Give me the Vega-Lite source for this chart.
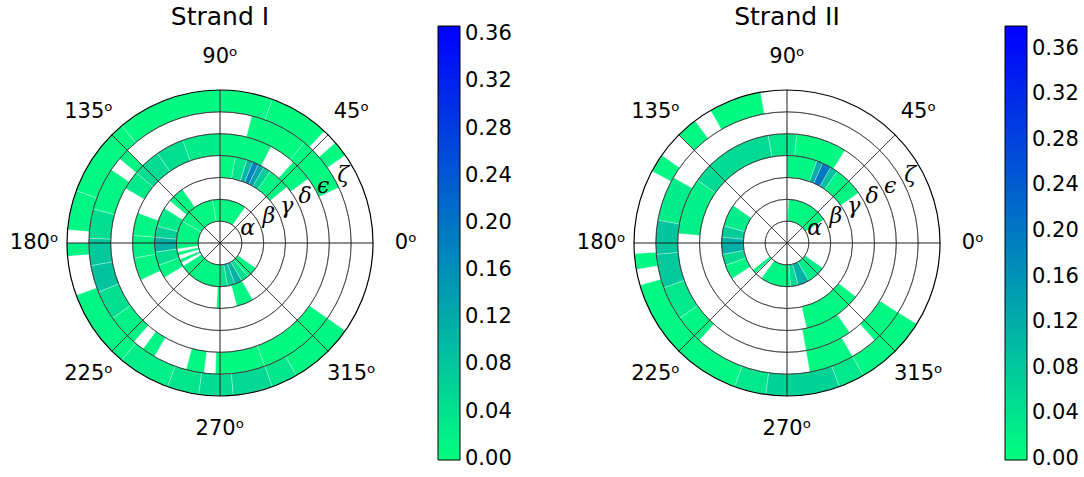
{
  "$schema": "https://vega.github.io/schema/vega-lite/v6.json",
  "padding": {"left": 9, "top": 5, "right": 0, "bottom": 0},
  "bounds": "flush",
  "spacing": 261,
  "config": {"view": {"stroke": null}, "font": "DejaVu Sans"},
  "resolve": {"scale": {"color": "independent"}},
  "datasets": {
    "strandI": [
      {"ring": "ζ", "r0": 6, "r1": 7, "a0": 35, "a1": 41, "v": 0.006},
      {"ring": "ζ", "r0": 6, "r1": 7, "a0": 47, "a1": 70, "v": 0.005},
      {"ring": "ζ", "r0": 6, "r1": 7, "a0": 70, "a1": 90, "v": 0.006},
      {"ring": "ζ", "r0": 6, "r1": 7, "a0": 90, "a1": 130, "v": 0.006},
      {"ring": "ζ", "r0": 6, "r1": 7, "a0": 130, "a1": 160, "v": 0.008},
      {"ring": "ζ", "r0": 6, "r1": 7, "a0": 160, "a1": 175, "v": 0.012},
      {"ring": "ζ", "r0": 6, "r1": 7, "a0": 180, "a1": 185, "v": 0.015},
      {"ring": "ζ", "r0": 6, "r1": 7, "a0": 200, "a1": 230, "v": 0.012},
      {"ring": "ζ", "r0": 6, "r1": 7, "a0": 230, "a1": 250, "v": 0.022},
      {"ring": "ζ", "r0": 6, "r1": 7, "a0": 250, "a1": 262, "v": 0.035},
      {"ring": "ζ", "r0": 6, "r1": 7, "a0": 262, "a1": 275, "v": 0.05},
      {"ring": "ζ", "r0": 6, "r1": 7, "a0": 275, "a1": 290, "v": 0.055},
      {"ring": "ζ", "r0": 6, "r1": 7, "a0": 290, "a1": 300, "v": 0.035},
      {"ring": "ζ", "r0": 6, "r1": 7, "a0": 300, "a1": 325, "v": 0.01},
      {"ring": "ε", "r0": 5, "r1": 6, "a0": 25, "a1": 50, "v": 0.005},
      {"ring": "ε", "r0": 5, "r1": 6, "a0": 50, "a1": 76, "v": 0.006},
      {"ring": "ε", "r0": 5, "r1": 6, "a0": 135, "a1": 140, "v": 0.012},
      {"ring": "ε", "r0": 5, "r1": 6, "a0": 146, "a1": 165, "v": 0.012},
      {"ring": "ε", "r0": 5, "r1": 6, "a0": 165, "a1": 178, "v": 0.045},
      {"ring": "ε", "r0": 5, "r1": 6, "a0": 178, "a1": 190, "v": 0.08},
      {"ring": "ε", "r0": 5, "r1": 6, "a0": 190, "a1": 202, "v": 0.085},
      {"ring": "ε", "r0": 5, "r1": 6, "a0": 202, "a1": 215, "v": 0.045},
      {"ring": "ε", "r0": 5, "r1": 6, "a0": 215, "a1": 229, "v": 0.018},
      {"ring": "ε", "r0": 5, "r1": 6, "a0": 234, "a1": 240, "v": 0.012},
      {"ring": "ε", "r0": 5, "r1": 6, "a0": 255, "a1": 263, "v": 0.008},
      {"ring": "ε", "r0": 5, "r1": 6, "a0": 268, "a1": 290, "v": 0.006},
      {"ring": "ε", "r0": 5, "r1": 6, "a0": 290, "a1": 325, "v": 0.005},
      {"ring": "δ", "r0": 4, "r1": 5, "a0": 36, "a1": 48, "v": 0.005},
      {"ring": "δ", "r0": 4, "r1": 5, "a0": 62, "a1": 90, "v": 0.008},
      {"ring": "δ", "r0": 4, "r1": 5, "a0": 90, "a1": 110, "v": 0.025},
      {"ring": "δ", "r0": 4, "r1": 5, "a0": 110, "a1": 125, "v": 0.045},
      {"ring": "δ", "r0": 4, "r1": 5, "a0": 125, "a1": 140, "v": 0.05},
      {"ring": "δ", "r0": 4, "r1": 5, "a0": 140, "a1": 150, "v": 0.03},
      {"ring": "γ", "r0": 3, "r1": 4, "a0": 40, "a1": 55, "v": 0.012},
      {"ring": "γ", "r0": 3, "r1": 4, "a0": 55, "a1": 60, "v": 0.07},
      {"ring": "γ", "r0": 3, "r1": 4, "a0": 60, "a1": 64, "v": 0.13},
      {"ring": "γ", "r0": 3, "r1": 4, "a0": 64, "a1": 68, "v": 0.18},
      {"ring": "γ", "r0": 3, "r1": 4, "a0": 68, "a1": 72, "v": 0.1},
      {"ring": "γ", "r0": 3, "r1": 4, "a0": 72, "a1": 80, "v": 0.035},
      {"ring": "γ", "r0": 3, "r1": 4, "a0": 80, "a1": 90, "v": 0.008},
      {"ring": "γ", "r0": 3, "r1": 4, "a0": 160, "a1": 175, "v": 0.012},
      {"ring": "γ", "r0": 3, "r1": 4, "a0": 175, "a1": 190, "v": 0.02},
      {"ring": "γ", "r0": 3, "r1": 4, "a0": 190, "a1": 205, "v": 0.012},
      {"ring": "β", "r0": 2, "r1": 3, "a0": 125, "a1": 140, "v": 0.012},
      {"ring": "β", "r0": 2, "r1": 3, "a0": 148, "a1": 165, "v": 0.025},
      {"ring": "β", "r0": 2, "r1": 3, "a0": 165, "a1": 175, "v": 0.065},
      {"ring": "β", "r0": 2, "r1": 3, "a0": 175, "a1": 188, "v": 0.11},
      {"ring": "β", "r0": 2, "r1": 3, "a0": 188, "a1": 200, "v": 0.045},
      {"ring": "β", "r0": 2, "r1": 3, "a0": 200, "a1": 212, "v": 0.012},
      {"ring": "β", "r0": 2, "r1": 3, "a0": 267, "a1": 270, "v": 0.005},
      {"ring": "β", "r0": 2, "r1": 3, "a0": 285, "a1": 300, "v": 0.012},
      {"ring": "α", "r0": 1, "r1": 2, "a0": 55, "a1": 100, "v": 0.008},
      {"ring": "α", "r0": 1, "r1": 2, "a0": 100, "a1": 150, "v": 0.008},
      {"ring": "α", "r0": 1, "r1": 2, "a0": 150, "a1": 180, "v": 0.012},
      {"ring": "α", "r0": 1, "r1": 2, "a0": 180, "a1": 188, "v": 0.012},
      {"ring": "α", "r0": 1, "r1": 2, "a0": 192, "a1": 197, "v": 0.012},
      {"ring": "α", "r0": 1, "r1": 2, "a0": 202, "a1": 207, "v": 0.012},
      {"ring": "α", "r0": 1, "r1": 2, "a0": 212, "a1": 270, "v": 0.012},
      {"ring": "α", "r0": 1, "r1": 2, "a0": 270, "a1": 280, "v": 0.035},
      {"ring": "α", "r0": 1, "r1": 2, "a0": 280, "a1": 290, "v": 0.075},
      {"ring": "α", "r0": 1, "r1": 2, "a0": 290, "a1": 300, "v": 0.11},
      {"ring": "α", "r0": 1, "r1": 2, "a0": 300, "a1": 310, "v": 0.045},
      {"ring": "α", "r0": 1, "r1": 2, "a0": 310, "a1": 325, "v": 0.012}
    ],
    "strandII": [
      {"ring": "ζ", "r0": 6, "r1": 7, "a0": 100, "a1": 120, "v": 0.005},
      {"ring": "ζ", "r0": 6, "r1": 7, "a0": 127, "a1": 135, "v": 0.008},
      {"ring": "ζ", "r0": 6, "r1": 7, "a0": 145, "a1": 152, "v": 0.008},
      {"ring": "ζ", "r0": 6, "r1": 7, "a0": 184, "a1": 190, "v": 0.008},
      {"ring": "ζ", "r0": 6, "r1": 7, "a0": 196, "a1": 250, "v": 0.01},
      {"ring": "ζ", "r0": 6, "r1": 7, "a0": 250, "a1": 262, "v": 0.035},
      {"ring": "ζ", "r0": 6, "r1": 7, "a0": 262, "a1": 290, "v": 0.065},
      {"ring": "ζ", "r0": 6, "r1": 7, "a0": 290, "a1": 300, "v": 0.035},
      {"ring": "ζ", "r0": 6, "r1": 7, "a0": 300, "a1": 328, "v": 0.008},
      {"ring": "ε", "r0": 5, "r1": 6, "a0": 150, "a1": 170, "v": 0.025},
      {"ring": "ε", "r0": 5, "r1": 6, "a0": 170, "a1": 185, "v": 0.085},
      {"ring": "ε", "r0": 5, "r1": 6, "a0": 185, "a1": 200, "v": 0.08},
      {"ring": "ε", "r0": 5, "r1": 6, "a0": 200, "a1": 215, "v": 0.035},
      {"ring": "ε", "r0": 5, "r1": 6, "a0": 215, "a1": 228, "v": 0.012},
      {"ring": "ε", "r0": 5, "r1": 6, "a0": 280, "a1": 300, "v": 0.008},
      {"ring": "ε", "r0": 5, "r1": 6, "a0": 312, "a1": 328, "v": 0.008},
      {"ring": "δ", "r0": 4, "r1": 5, "a0": 58, "a1": 85, "v": 0.005},
      {"ring": "δ", "r0": 4, "r1": 5, "a0": 85, "a1": 100, "v": 0.035},
      {"ring": "δ", "r0": 4, "r1": 5, "a0": 100, "a1": 145, "v": 0.055},
      {"ring": "δ", "r0": 4, "r1": 5, "a0": 145, "a1": 175, "v": 0.022},
      {"ring": "δ", "r0": 4, "r1": 5, "a0": 280, "a1": 305, "v": 0.008},
      {"ring": "γ", "r0": 3, "r1": 4, "a0": 35, "a1": 55, "v": 0.012},
      {"ring": "γ", "r0": 3, "r1": 4, "a0": 55, "a1": 60, "v": 0.09},
      {"ring": "γ", "r0": 3, "r1": 4, "a0": 60, "a1": 66, "v": 0.2},
      {"ring": "γ", "r0": 3, "r1": 4, "a0": 66, "a1": 70, "v": 0.12},
      {"ring": "γ", "r0": 3, "r1": 4, "a0": 70, "a1": 90, "v": 0.012},
      {"ring": "γ", "r0": 3, "r1": 4, "a0": 283, "a1": 322, "v": 0.008},
      {"ring": "β", "r0": 2, "r1": 3, "a0": 145, "a1": 165, "v": 0.025},
      {"ring": "β", "r0": 2, "r1": 3, "a0": 165, "a1": 175, "v": 0.075},
      {"ring": "β", "r0": 2, "r1": 3, "a0": 175, "a1": 190, "v": 0.115},
      {"ring": "β", "r0": 2, "r1": 3, "a0": 190, "a1": 200, "v": 0.055},
      {"ring": "β", "r0": 2, "r1": 3, "a0": 200, "a1": 213, "v": 0.012},
      {"ring": "α", "r0": 1, "r1": 2, "a0": 32, "a1": 88, "v": 0.008},
      {"ring": "α", "r0": 1, "r1": 2, "a0": 218, "a1": 224, "v": 0.008},
      {"ring": "α", "r0": 1, "r1": 2, "a0": 234, "a1": 275, "v": 0.012},
      {"ring": "α", "r0": 1, "r1": 2, "a0": 275, "a1": 285, "v": 0.055},
      {"ring": "α", "r0": 1, "r1": 2, "a0": 285, "a1": 300, "v": 0.115},
      {"ring": "α", "r0": 1, "r1": 2, "a0": 300, "a1": 325, "v": 0.025}
    ],
    "circles": [
      {"r": 1, "t0": 0, "t1": 360}, {"r": 2, "t0": 0, "t1": 360}, {"r": 3, "t0": 0, "t1": 360},
      {"r": 4, "t0": 0, "t1": 360}, {"r": 5, "t0": 0, "t1": 360}, {"r": 6, "t0": 0, "t1": 360}
    ],
    "spokes": [
      {"a": 0, "b": 0.01}, {"a": 45, "b": 45.01}, {"a": 90, "b": 90.01}, {"a": 135, "b": 135.01},
      {"a": 180, "b": 180.01}, {"a": 225, "b": 225.01}, {"a": 270, "b": 270.01}, {"a": 315, "b": 315.01}
    ],
    "outer": [{"r": 7, "t0": 0, "t1": 360}],
    "angleLabels": [
      {"a": 0, "lab": "0ᵒ"}, {"a": 45, "lab": "45ᵒ"}, {"a": 90, "lab": "90ᵒ"}, {"a": 135, "lab": "135ᵒ"},
      {"a": 180, "lab": "180ᵒ"}, {"a": 225, "lab": "225ᵒ"}, {"a": 270, "lab": "270ᵒ"}, {"a": 315, "lab": "315ᵒ"}
    ],
    "greek": [
      {"g": "α", "m": 1.45}, {"g": "β", "m": 2.55}, {"g": "γ", "m": 3.5},
      {"g": "δ", "m": 4.45}, {"g": "ϵ", "m": 5.4}, {"g": "ζ", "m": 6.45}
    ]
  },
  "hconcat": [
    {
      "title": {"text": "Strand I", "fontSize": 25, "fontWeight": "normal", "font": "DejaVu Sans", "offset": -24, "baseline": "alphabetic", "anchor": "middle", "frame": "group", "color": "#000"},
      "width": 306,
      "height": 306,
      "layer": [
        {
          "data": {"name": "strandI"},
          "mark": {"type": "arc", "stroke": "#ffffff", "strokeWidth": 0.3},
          "encoding": {
            "theta": {"field": "a0", "type": "quantitative", "stack": null, "scale": {"type": "linear", "domain": [0, 360], "range": [1.5707963267948966, -4.71238898038469], "nice": false, "zero": false}},
            "theta2": {"field": "a1"},
            "radius": {"field": "r1", "type": "quantitative", "scale": {"type": "linear", "domain": [0, 7], "range": [0, 153], "nice": false, "zero": true}},
            "radius2": {"field": "r0"},
            "color": {
              "field": "v", "type": "quantitative",
              "scale": {"type": "linear", "domain": [-0.001, 0.367], "range": ["#00ff80", "#0000ff"], "interpolate": "rgb", "nice": false, "zero": false},
              "legend": {"orient": "none", "legendX": 371, "legendY": -64, "direction": "vertical", "gradientLength": 434, "gradientThickness": 22, "title": null, "values": [0, 0.04, 0.08, 0.12, 0.16, 0.2, 0.24, 0.28, 0.32, 0.36], "format": ".2f", "labelFontSize": 21, "labelOffset": 5, "labelBaseline": "middle", "labelOverlap": false, "labelColor": "#000", "gradientStrokeColor": "#000", "gradientStrokeWidth": 1, "padding": 0}
            }
          }
        },
        {
          "data": {"name": "circles"},
          "mark": {"type": "arc", "fill": "transparent", "stroke": "#222", "strokeWidth": 0.6},
          "encoding": {
            "theta": {"field": "t0", "type": "quantitative", "stack": null, "scale": {"type": "linear", "domain": [0, 360], "range": [1.5707963267948966, -4.71238898038469], "nice": false, "zero": false}},
            "theta2": {"field": "t1"},
            "radius": {"field": "r", "type": "quantitative", "scale": {"type": "linear", "domain": [0, 7], "range": [0, 153], "nice": false, "zero": true}},
            "radius2": {"field": "r"}
          }
        },
        {
          "data": {"name": "spokes"},
          "mark": {"type": "arc", "fill": "transparent", "stroke": "#222", "strokeWidth": 0.6},
          "encoding": {
            "theta": {"field": "a", "type": "quantitative", "stack": null, "scale": {"type": "linear", "domain": [0, 360], "range": [1.5707963267948966, -4.71238898038469], "nice": false, "zero": false}},
            "theta2": {"field": "b"},
            "radius": {"datum": 7, "type": "quantitative", "scale": {"type": "linear", "domain": [0, 7], "range": [0, 153], "nice": false, "zero": true}}
          }
        },
        {
          "data": {"name": "outer"},
          "mark": {"type": "arc", "fill": "transparent", "stroke": "#000", "strokeWidth": 1.2},
          "encoding": {
            "theta": {"field": "t0", "type": "quantitative", "stack": null, "scale": {"type": "linear", "domain": [0, 360], "range": [1.5707963267948966, -4.71238898038469], "nice": false, "zero": false}},
            "theta2": {"field": "t1"},
            "radius": {"field": "r", "type": "quantitative", "scale": {"type": "linear", "domain": [0, 7], "range": [0, 153], "nice": false, "zero": true}},
            "radius2": {"field": "r"}
          }
        },
        {
          "data": {"name": "angleLabels"},
          "mark": {"type": "text", "fontSize": 21, "font": "DejaVu Sans", "align": "center", "baseline": "middle", "color": "#000"},
          "encoding": {
            "theta": {"field": "a", "type": "quantitative", "scale": {"type": "linear", "domain": [0, 360], "range": [1.5707963267948966, -4.71238898038469], "nice": false, "zero": false}},
            "radius": {"datum": 8.5, "type": "quantitative", "scale": {"type": "linear", "domain": [0, 7], "range": [0, 153], "nice": false, "zero": true}},
            "text": {"field": "lab"}
          }
        },
        {
          "data": {"name": "greek"},
          "mark": {"type": "text", "fontSize": 22, "font": "DejaVu Serif", "fontStyle": "italic", "align": "center", "baseline": "middle", "color": "#000"},
          "encoding": {
            "theta": {"datum": 29, "type": "quantitative", "scale": {"type": "linear", "domain": [0, 360], "range": [1.5707963267948966, -4.71238898038469], "nice": false, "zero": false}},
            "radius": {"field": "m", "type": "quantitative", "scale": {"type": "linear", "domain": [0, 7], "range": [0, 153], "nice": false, "zero": true}},
            "text": {"field": "g"}
          }
        }
      ]
    },
    {
      "title": {"text": "Strand II", "fontSize": 25, "fontWeight": "normal", "font": "DejaVu Sans", "offset": -24, "baseline": "alphabetic", "anchor": "middle", "frame": "group", "color": "#000"},
      "width": 306,
      "height": 306,
      "layer": [
        {
          "data": {"name": "strandII"},
          "mark": {"type": "arc", "stroke": "#ffffff", "strokeWidth": 0.3},
          "encoding": {
            "theta": {"field": "a0", "type": "quantitative", "stack": null, "scale": {"type": "linear", "domain": [0, 360], "range": [1.5707963267948966, -4.71238898038469], "nice": false, "zero": false}},
            "theta2": {"field": "a1"},
            "radius": {"field": "r1", "type": "quantitative", "scale": {"type": "linear", "domain": [0, 7], "range": [0, 153], "nice": false, "zero": true}},
            "radius2": {"field": "r0"},
            "color": {
              "field": "v", "type": "quantitative",
              "scale": {"type": "linear", "domain": [-0.001, 0.38], "range": ["#00ff80", "#0000ff"], "interpolate": "rgb", "nice": false, "zero": false},
              "legend": {"orient": "none", "legendX": 371, "legendY": -64, "direction": "vertical", "gradientLength": 434, "gradientThickness": 22, "title": null, "values": [0, 0.04, 0.08, 0.12, 0.16, 0.2, 0.24, 0.28, 0.32, 0.36], "format": ".2f", "labelFontSize": 21, "labelOffset": 5, "labelBaseline": "middle", "labelOverlap": false, "labelColor": "#000", "gradientStrokeColor": "#000", "gradientStrokeWidth": 1, "padding": 0}
            }
          }
        },
        {
          "data": {"name": "circles"},
          "mark": {"type": "arc", "fill": "transparent", "stroke": "#222", "strokeWidth": 0.6},
          "encoding": {
            "theta": {"field": "t0", "type": "quantitative", "stack": null, "scale": {"type": "linear", "domain": [0, 360], "range": [1.5707963267948966, -4.71238898038469], "nice": false, "zero": false}},
            "theta2": {"field": "t1"},
            "radius": {"field": "r", "type": "quantitative", "scale": {"type": "linear", "domain": [0, 7], "range": [0, 153], "nice": false, "zero": true}},
            "radius2": {"field": "r"}
          }
        },
        {
          "data": {"name": "spokes"},
          "mark": {"type": "arc", "fill": "transparent", "stroke": "#222", "strokeWidth": 0.6},
          "encoding": {
            "theta": {"field": "a", "type": "quantitative", "stack": null, "scale": {"type": "linear", "domain": [0, 360], "range": [1.5707963267948966, -4.71238898038469], "nice": false, "zero": false}},
            "theta2": {"field": "b"},
            "radius": {"datum": 7, "type": "quantitative", "scale": {"type": "linear", "domain": [0, 7], "range": [0, 153], "nice": false, "zero": true}}
          }
        },
        {
          "data": {"name": "outer"},
          "mark": {"type": "arc", "fill": "transparent", "stroke": "#000", "strokeWidth": 1.2},
          "encoding": {
            "theta": {"field": "t0", "type": "quantitative", "stack": null, "scale": {"type": "linear", "domain": [0, 360], "range": [1.5707963267948966, -4.71238898038469], "nice": false, "zero": false}},
            "theta2": {"field": "t1"},
            "radius": {"field": "r", "type": "quantitative", "scale": {"type": "linear", "domain": [0, 7], "range": [0, 153], "nice": false, "zero": true}},
            "radius2": {"field": "r"}
          }
        },
        {
          "data": {"name": "angleLabels"},
          "mark": {"type": "text", "fontSize": 21, "font": "DejaVu Sans", "align": "center", "baseline": "middle", "color": "#000"},
          "encoding": {
            "theta": {"field": "a", "type": "quantitative", "scale": {"type": "linear", "domain": [0, 360], "range": [1.5707963267948966, -4.71238898038469], "nice": false, "zero": false}},
            "radius": {"datum": 8.5, "type": "quantitative", "scale": {"type": "linear", "domain": [0, 7], "range": [0, 153], "nice": false, "zero": true}},
            "text": {"field": "lab"}
          }
        },
        {
          "data": {"name": "greek"},
          "mark": {"type": "text", "fontSize": 22, "font": "DejaVu Serif", "fontStyle": "italic", "align": "center", "baseline": "middle", "color": "#000"},
          "encoding": {
            "theta": {"datum": 29, "type": "quantitative", "scale": {"type": "linear", "domain": [0, 360], "range": [1.5707963267948966, -4.71238898038469], "nice": false, "zero": false}},
            "radius": {"field": "m", "type": "quantitative", "scale": {"type": "linear", "domain": [0, 7], "range": [0, 153], "nice": false, "zero": true}},
            "text": {"field": "g"}
          }
        }
      ]
    }
  ]
}
